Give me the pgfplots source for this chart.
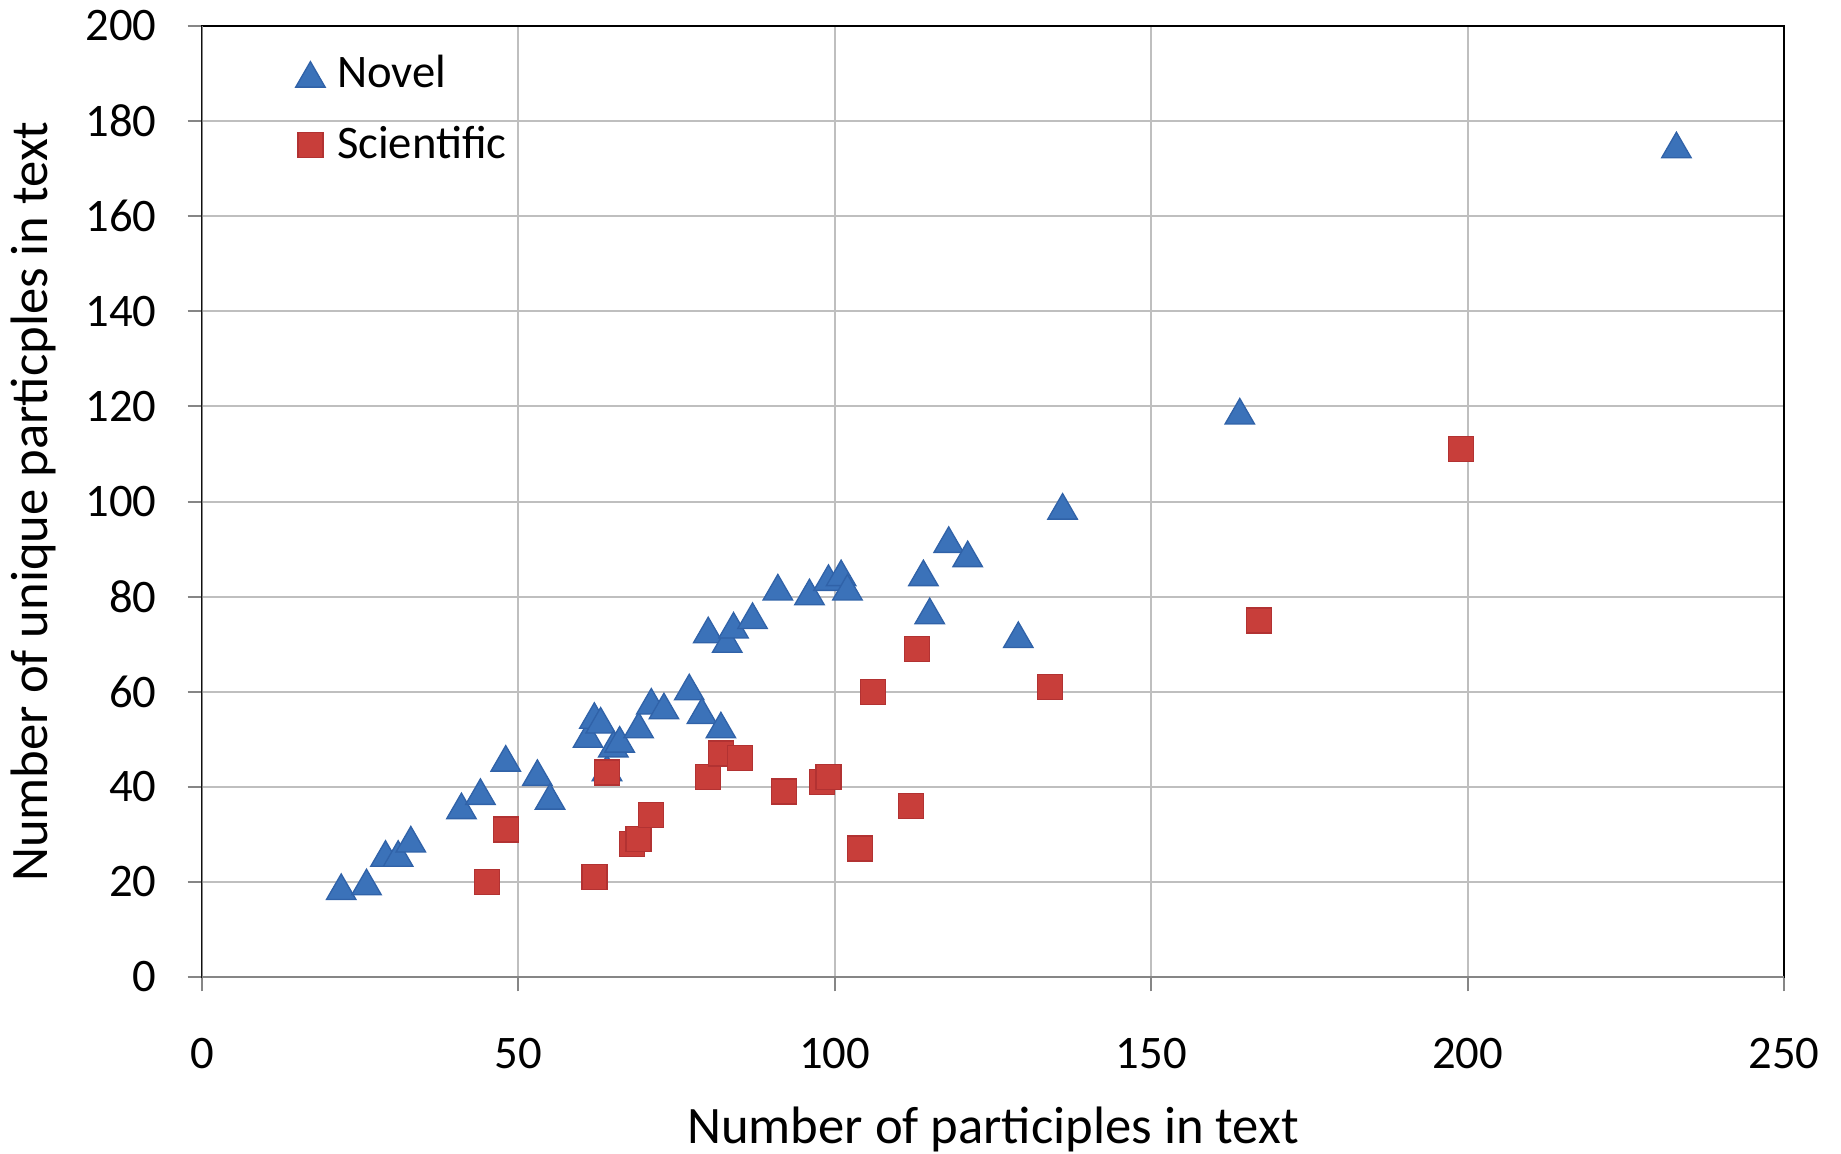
\documentclass[border=0pt]{standalone}
\usepackage{pgfplots}
\pgfplotsset{compat=1.18}
\usepackage{fontspec}
\setmainfont{Carlito}
\definecolor{novelblue}{RGB}{59,114,185}
\definecolor{noveledge}{RGB}{48,98,168}
\definecolor{scired}{RGB}{200,62,58}
\definecolor{sciedge}{RGB}{178,50,50}
\definecolor{gridgray}{RGB}{191,191,191}
\definecolor{axisgray}{RGB}{134,134,134}
\begin{document}
\begin{tikzpicture}
\begin{axis}[
  at={(0,0)}, anchor=south west,
  scale only axis, width=474.6pt, height=285.3pt,
  xmin=0, xmax=250, ymin=0, ymax=200,
  xtick={0,50,...,250}, ytick={0,20,...,200},
  grid=major, major grid style={gridgray, line width=0.6pt},
  axis line style={black, line width=0.5pt},
  tick align=outside, xtick pos=lower, ytick pos=left,
  major tick length=4.3pt, tick style={axisgray, line width=0.6pt},
  /pgf/number format/assume math mode=true,
  ticklabel style={font=\fontsize{14}{17}\selectfont},
  xticklabel style={anchor=base, yshift=-23.1pt},
  yticklabel style={anchor=east, xshift=-5.8pt},
  xlabel={Number of participles in text},
  ylabel={Number of unique particples in text},
  label style={font=\fontsize{15.8}{19}\selectfont},
  xlabel style={at={(axis description cs:0.5,0)}, anchor=base, yshift=-49.8pt},
  ylabel style={at={(axis description cs:-0.1068,0.5)}, anchor=center},
  legend style={at={(rel axis cs:0.0588,0.9766)}, anchor=north west, draw=none, fill=none,
    font=\fontsize{14}{17}\selectfont, inner sep=0pt, row sep=6pt, column sep=1.6pt},
  legend cell align=left,
  legend image code/.code={\draw[#1] plot coordinates {(0pt,0pt)};},
]
\addplot[only marks, mark=triangle*, mark size=5.1pt,
  mark options={fill=novelblue, draw=noveledge, line width=0.4pt, yshift=-1.3pt}]
  coordinates {
  (22,19) (26,20) (29,26) (31,26) (33,29) (41,36) (44,39) (48,46) (53,43) (55,38)
  (61,51) (62,55) (63,54) (64,44) (65,49) (66,50) (69,53) (71,58) (73,57) (77,61)
  (79,56) (82,53) (80,73) (83,71) (84,74) (87,76) (91,82) (96,81) (99,84) (101,85)
  (102,82) (114,85) (115,77) (118,92) (121,89) (129,72) (136,99) (164,119) (233,175)
  };
\addlegendentry{Novel}
\addplot[only marks, mark=square*, mark size=3.75pt,
  mark options={fill=scired, draw=sciedge, line width=0.4pt}]
  coordinates {
  (45,20) (48,31) (62,21) (64,43) (68,28) (69,29) (71,34) (80,42) (82,47) (85,46)
  (92,39) (98,41) (99,42) (104,27) (106,60) (112,36) (113,69) (134,61) (167,75) (199,111)
  };
\addlegendentry{Scientific}
\draw[axisgray, line width=0.9pt] (rel axis cs:0,1) -- (rel axis cs:0,0) -- (rel axis cs:1,0);
\end{axis}
\pgfresetboundingbox
\useasboundingbox (-60.6pt,-52.8pt) rectangle (491.7pt,293.1pt);
\end{tikzpicture}
\end{document}
